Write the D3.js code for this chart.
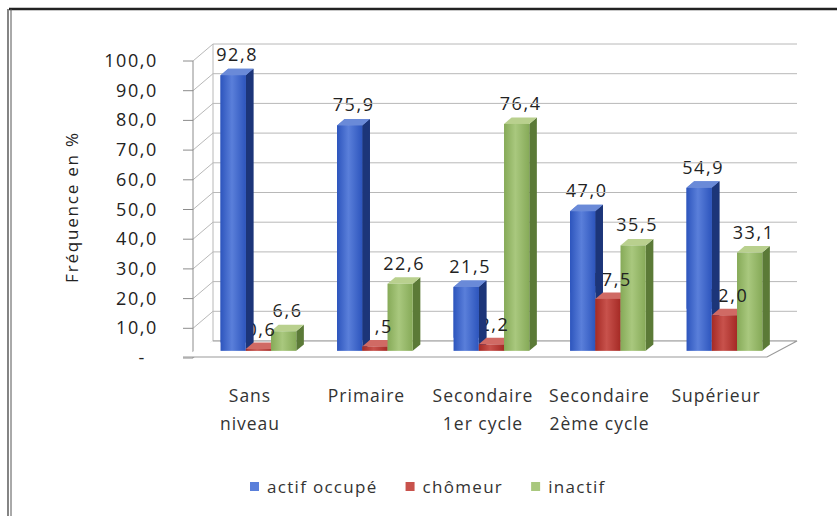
<!DOCTYPE html>
<html>
<head>
<meta charset="utf-8">
<script src="https://cdn.jsdelivr.net/npm/d3@7"></script>
<style>
  body { margin: 0; background: #fff; }
  text { font-family: "Open Sans", sans-serif; fill: #222; }
</style>
</head>
<body>
<script>
var w = 837;
var h = 516;

// data
var categories = ["Sans niveau", "Primaire", "Secondaire 1er cycle", "Secondaire 2ème cycle", "Supérieur"];
var categoryLines = [["Sans", "niveau"], ["Primaire"], ["Secondaire", "1er cycle"], ["Secondaire", "2ème cycle"], ["Supérieur"]];
var seriesNames = ["actif occupé", "chômeur", "inactif"];
var actifOccupe = [92.8, 75.9, 21.5, 47.0, 54.9];
var chomeur = [0.6, 1.5, 2.2, 17.5, 12.0];
var inactif = [6.6, 22.6, 76.4, 35.5, 33.1];
var yTicks = [0, 10, 20, 30, 40, 50, 60, 70, 80, 90, 100];

var seriesValues = [actifOccupe, chomeur, inactif];
var colors = [
  {front1: "#2d55bd", front2: "#5a7fda", side: "#1c3579", top: "#6a8ad8"},
  {front1: "#a52a25", front2: "#c8524c", side: "#6e1a16", top: "#d06a64"},
  {front1: "#86aa58", front2: "#a9c87e", side: "#5b7a37", top: "#b9d08e"}
];

// depth of the 3d box
var DX = 20, DY = -17;
var zFront = 0.42, zBack = 0.8;

var svg = d3.select("body").append("svg")
  .attr("width", w)
  .attr("height", h);

var defs = svg.append("defs");
colors.forEach(function(c, i) {
  var g = defs.append("linearGradient").attr("id", "grad" + i)
    .attr("x1", "0%").attr("x2", "100%").attr("y1", "0%").attr("y2", "0%");
  g.append("stop").attr("offset", "0%").attr("stop-color", c.front1);
  g.append("stop").attr("offset", "45%").attr("stop-color", c.front2);
  g.append("stop").attr("offset", "100%").attr("stop-color", c.front1);
});

// frame
svg.append("line").attr("x1", 9).attr("x2", w).attr("y1", 9).attr("y2", 9)
  .attr("stroke", "#222").attr("stroke-width", 2.5);
svg.append("line").attr("x1", 8).attr("x2", 8).attr("y1", 9).attr("y2", h)
  .attr("stroke", "#333").attr("stroke-width", 1.2);
svg.append("line").attr("x1", 11).attr("x2", 11).attr("y1", 9).attr("y2", h)
  .attr("stroke", "#555").attr("stroke-width", 1);

var y = d3.scaleLinear().domain([0, 100]).range([358, 61]);
var x = d3.scaleBand().domain(categories).range([191.75, 774.25])
  .paddingInner(0.35).paddingOuter(0.175);
var xs = d3.scaleBand().domain(seriesNames).range([0, x.bandwidth()]);

var wallX = 193, floorLeft = 183, floorRight = 767;
var bw = xs.bandwidth();
var sdx = DX * (zBack - zFront), sdy = DY * (zBack - zFront);

function labelX(si, i) { return x(categories[i]) + xs(seriesNames[si]) + bw / 2 + DX * zFront + 4; }
function labelY(d) { return y(d) + DY * zFront - 14; }
function fmt(d) { return d.toFixed(1).replace(".", ","); }

// labels of the 1st and 3rd series sit under the grid, as in the picture
var labels = svg.append("g");
[0, 2].forEach(function(si) {
  labels.selectAll(null)
    .data(seriesValues[si])
    .enter()
    .append("text")
    .attr("text-anchor", "middle")
    .attr("x", function(d, i) { return labelX(si, i); })
    .attr("y", labelY)
    .style("font-size", "18px")
    .style("letter-spacing", "1.6px")
    .text(fmt);
});

// back wall grid
var grid = svg.append("g").attr("stroke", "#b8b8b8").attr("stroke-width", 1).attr("fill", "none");
grid.selectAll("line.back")
  .data(yTicks)
  .enter()
  .append("line")
  .attr("x1", wallX + DX).attr("x2", floorRight + DX + 10)
  .attr("y1", function(d) { return y(d) + DY; })
  .attr("y2", function(d) { return y(d) + DY; });
grid.selectAll("line.side")
  .data(yTicks)
  .enter()
  .append("line")
  .attr("x1", wallX).attr("x2", wallX + DX)
  .attr("y1", function(d) { return y(d); })
  .attr("y2", function(d) { return y(d) + DY; });
grid.append("line").attr("x1", wallX + DX).attr("x2", wallX + DX)
  .attr("y1", y(100) + DY).attr("y2", y(0) + DY);

// side axis with ticks
var axis = svg.append("g").attr("stroke", "#8c8c8c").attr("stroke-width", 1);
axis.append("line").attr("x1", wallX).attr("x2", wallX).attr("y1", y(100)).attr("y2", y(0));
axis.selectAll("line.tick")
  .data(yTicks)
  .enter()
  .append("line")
  .attr("x1", floorLeft).attr("x2", wallX)
  .attr("y1", function(d) { return y(d); })
  .attr("y2", function(d) { return y(d); });

// floor
svg.append("path")
  .attr("d", "M" + floorLeft + "," + (y(0) - 1) + "L" + floorRight + "," + (y(0) - 1) +
    "L" + (floorRight + DX + 10) + "," + (y(0) + DY) + "L" + (wallX + DX) + "," + (y(0) + DY))
  .attr("fill", "#fff").attr("stroke", "#9a9a9a").attr("stroke-width", 1.2);

// tick labels
svg.selectAll("text.ytick")
  .data(yTicks)
  .enter()
  .append("text")
  .attr("class", "ytick")
  .attr("text-anchor", "end")
  .attr("x", function(d) { return d === 0 ? 146 : 158; })
  .attr("y", function(d) { return y(d) + 6; })
  .style("font-size", "18px")
  .style("letter-spacing", "1.6px")
  .text(function(d) { return d === 0 ? "-" : fmt(d); });

// one 3d bar
function drawBar(parent, ci, si) {
  var v = seriesValues[si][ci];
  var x0 = x(categories[ci]) + xs(seriesNames[si]) + DX * zFront;
  var yb = y(0) + DY * zFront;
  var yt = y(v) + DY * zFront;
  var c = colors[si];
  var g = parent.append("g");
  g.append("path")
    .attr("d", "M" + (x0 + bw) + "," + yb + "L" + (x0 + bw + sdx) + "," + (yb + sdy) +
      "L" + (x0 + bw + sdx) + "," + (yt + sdy) + "L" + (x0 + bw) + "," + yt + "Z")
    .attr("fill", c.side);
  g.append("path")
    .attr("d", "M" + x0 + "," + yt + "L" + (x0 + sdx) + "," + (yt + sdy) +
      "L" + (x0 + bw + sdx) + "," + (yt + sdy) + "L" + (x0 + bw) + "," + yt + "Z")
    .attr("fill", c.top);
  g.append("rect")
    .attr("x", x0).attr("y", yt)
    .attr("width", bw).attr("height", yb - yt)
    .attr("fill", "url(#grad" + si + ")");
  return g;
}

categories.forEach(function(cat, ci) {
  seriesValues.forEach(function(vals, si) { drawBar(svg, ci, si); });
});

// chômeur labels: over the green bars, under the blue bars
svg.selectAll("text.red")
  .data(chomeur)
  .enter()
  .append("text")
  .attr("class", "red")
  .attr("text-anchor", "middle")
  .attr("x", function(d, i) { return labelX(1, i) - 1; })
  .attr("y", function(d) { return labelY(d) + 1; })
  .style("font-size", "18px")
  .style("letter-spacing", "1.6px")
  .text(fmt);

categories.forEach(function(cat, ci) {
  var clipY = y(chomeur[ci]) + DY * zFront + sdy;
  defs.append("clipPath").attr("id", "clipBlue" + ci)
    .append("rect").attr("x", 0).attr("y", 0).attr("width", w).attr("height", clipY);
  var cg = svg.append("g").attr("clip-path", "url(#clipBlue" + ci + ")");
  drawBar(cg, ci, 0);
});

// category labels
var catG = svg.append("g");
categoryLines.forEach(function(lines, i) {
  var cx = x(categories[i]) + x.bandwidth() / 2;
  var t = catG.append("text")
    .attr("text-anchor", "middle")
    .attr("x", cx)
    .attr("y", 402)
    .style("font-size", "17.5px")
    .style("letter-spacing", "1px")
    .style("fill", "#333");
  lines.forEach(function(l, k) {
    t.append("tspan").attr("x", cx)
      .attr("dy", k === 0 ? 0 : 28).text(l);
  });
});

// y axis title
svg.append("text")
  .attr("transform", "translate(78,207) rotate(-90)")
  .attr("text-anchor", "middle")
  .style("font-size", "17px")
  .style("letter-spacing", "1.8px")
  .text("Fréquence en %");

// legend
var legend = svg.append("g");
var lx = 250;
seriesNames.forEach(function(name, i) {
  legend.append("rect")
    .attr("x", lx).attr("y", 482)
    .attr("width", 9).attr("height", 9)
    .attr("fill", colors[i].front2);
  var t = legend.append("text")
    .attr("x", lx + 17).attr("y", 493)
    .style("font-size", "17px")
    .style("letter-spacing", "1.3px")
    .style("fill", "#333")
    .text(name);
  lx += 17 + t.node().getComputedTextLength() + 28;
});
</script>
</body>
</html>
